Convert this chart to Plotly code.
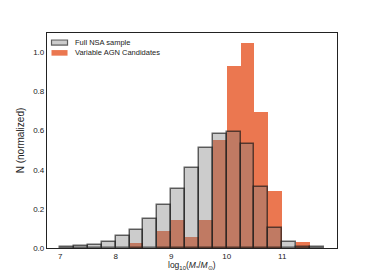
import plotly.graph_objects as go

bin_left = [7.0 + 0.25 * i for i in range(19)]
bin_width = 0.25
nsa_full = [0.004, 0.008, 0.017, 0.032, 0.059, 0.093, 0.148, 0.218, 0.301, 0.408,
            0.513, 0.582, 0.595, 0.532, 0.311, 0.104, 0.029, 0.005, 0.003]
agn_var = [0.0, 0.0, 0.0, 0.0, 0.0, 0.025, 0.0, 0.085, 0.144, 0.056,
           0.144, 0.551, 0.930, 1.046, 0.697, 0.289, 0.0, 0.029, 0.0]
legend_labels = ["Full NSA sample", "Variable AGN Candidates"]

centers = [b + bin_width / 2 for b in bin_left]

ORANGE = "rgb(235,119,80)"
GREY_FILL = "rgba(128,128,128,0.4)"
GREY_EDGE = "rgba(20,20,20,0.65)"

fig = go.Figure()
fig.add_trace(go.Bar(
    x=centers, y=agn_var, width=bin_width, name=legend_labels[1],
    marker=dict(color=ORANGE, line=dict(width=0)),
))
fig.add_trace(go.Bar(
    x=centers, y=nsa_full, width=bin_width, name=legend_labels[0],
    marker=dict(color=GREY_FILL, line=dict(color=GREY_EDGE, width=1.5)),
))

font = "Liberation Sans, Arial, sans-serif"

# manual legend (patches + labels) in the upper-left corner
shapes = [
    dict(type="rect", xref="paper", yref="paper", x0=0.0155, x1=0.0708,
         y0=0.944, y1=0.9675, fillcolor=GREY_FILL,
         line=dict(color=GREY_EDGE, width=1.2)),
    dict(type="rect", xref="paper", yref="paper", x0=0.0155, x1=0.0708,
         y0=0.8946, y1=0.9206, fillcolor=ORANGE, line=dict(width=0)),
]
annotations = [
    dict(text=legend_labels[0], xref="paper", yref="paper", x=0.088, y=0.9568,
         xanchor="left", yanchor="middle", showarrow=False,
         font=dict(size=7.5, color="#222", family=font)),
    dict(text=legend_labels[1], xref="paper", yref="paper", x=0.088, y=0.907,
         xanchor="left", yanchor="middle", showarrow=False,
         font=dict(size=7.5, color="#222", family=font)),
    dict(text="log<sub>10</sub>(<i>M</i><sub>*</sub>/<i>M</i><sub>⊙</sub>)",
         xref="paper", yref="paper", x=0.5, y=-0.083, xanchor="center",
         yanchor="middle", showarrow=False,
         font=dict(size=8.5, color="#222", family=font)),
]

# the page body has an 8px margin; size the figure so the plot area lands
# where the reference has it and nothing overflows the window
fig.update_layout(
    width=358, height=264,
    margin=dict(l=39, r=29, t=25, b=24),
    barmode="overlay", bargap=0,
    paper_bgcolor="white", plot_bgcolor="white",
    font=dict(family=font, size=8, color="#222"),
    showlegend=False,
    shapes=shapes, annotations=annotations,
    xaxis=dict(range=[6.7625, 11.9875], tickvals=[7, 8, 9, 10, 11],
               showgrid=False, zeroline=False, showline=True, linecolor="#222",
               linewidth=1.2, mirror=True, ticks="", tickfont=dict(size=8)),
    yaxis=dict(range=[0, 1.0983], tickvals=[0, 0.2, 0.4, 0.6, 0.8, 1.0],
               tickformat=".1f",
               showgrid=False, zeroline=False, showline=True, linecolor="#222",
               linewidth=1.2, mirror=True, ticks="", tickfont=dict(size=8),
               title=dict(text="N (normalized)", font=dict(size=10), standoff=6)),
)

fig.write_html("out.html")
